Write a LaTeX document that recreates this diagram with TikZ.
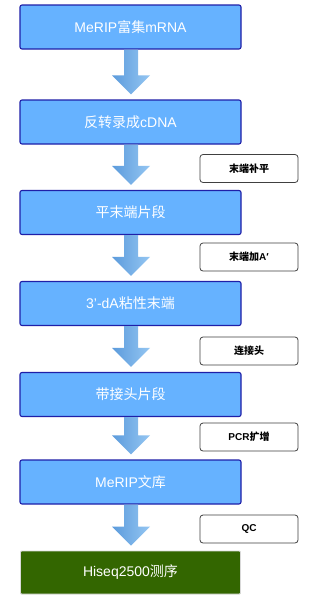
\documentclass[tikz,border=0pt]{standalone}
\usepackage{fontspec}
\setmainfont{Liberation Sans}
\newfontfamily\cjk{Noto Sans CJK SC}
\usetikzlibrary{calc}
\definecolor{boxblue}{HTML}{66B2FF}
\definecolor{boxedge}{HTML}{1F1FA8}
\definecolor{arrdark}{HTML}{5C9BDC}
\definecolor{arrlight}{HTML}{94C6F2}
\definecolor{seqgreen}{HTML}{336600}
\begin{document}
\begin{tikzpicture}[x=1pt,y=-1pt,
  mainbox/.style={draw=boxedge,line width=1.1pt,fill=boxblue,rounded corners=2pt,minimum width=221pt,minimum height=44pt,text=white,font=\fontsize{14}{16}\selectfont,inner sep=0pt},
  seqbox/.style={draw=black!15,line width=0.8pt,fill=seqgreen,rounded corners=1pt,minimum width=220pt,minimum height=43pt,text=white,font=\fontsize{14}{16}\selectfont,inner sep=0pt},
  sidebox/.style={draw=black!75,line width=0.8pt,fill=white,rounded corners=3pt,minimum width=98pt,minimum height=28pt,font=\bfseries\fontsize{10}{12}\selectfont,inner sep=0pt},
  blockarrow/.style={left color=arrdark,right color=arrlight,draw=none}
]
\useasboundingbox (0,0) rectangle (319,600);
\fill[white] (0,0) rectangle (319,600);
\node[mainbox] (b1) at (130.5,27) {MeRIP{\cjk 富集}mRNA};
\node[mainbox] (b2) at (130.5,122) {{\cjk 反转录成}cDNA};
\node[mainbox] (b3) at (130.5,212.5) {\cjk 平末端片段};
\node[mainbox] (b4) at (130.5,303.5) {3'-dA{\cjk 粘性末端}};
\node[mainbox] (b5) at (130.5,394.5) {\cjk 带接头片段};
\node[mainbox] (b6) at (130.5,482) {MeRIP{\cjk 文库}};
\node[seqbox] (b7) at (130.5,572.5) {Hiseq2500{\cjk 测序}};
\node[sidebox] (s1) at (249,168.5) {\cjk\bfseries 末端补平};
\node[sidebox] (s2) at (249,257) {{\cjk\bfseries 末端加}A′};
\node[sidebox] (s3) at (249,351) {\cjk\bfseries 连接头};
\node[sidebox] (s4) at (249,437) {PCR{\cjk\bfseries 扩增}};
\node[sidebox] (s5) at (249,529) {QC};
\foreach \a/\b in {b1/b2,b2/b3,b3/b4,b4/b5,b5/b6,b6/b7}{
  \path[blockarrow]
    ($(\a.south)+(-6.5,0)$) -- ($(\a.south)+(7.5,0)$)
    -- ($(\b.north)+(7.5,-24)$) -- ($(\b.north)+(19.5,-24)$)
    -- ($(\b.north)+(0.5,-5)$)
    -- ($(\b.north)+(-18.5,-24)$) -- ($(\b.north)+(-6.5,-24)$) -- cycle;
}
\end{tikzpicture}
\end{document}
